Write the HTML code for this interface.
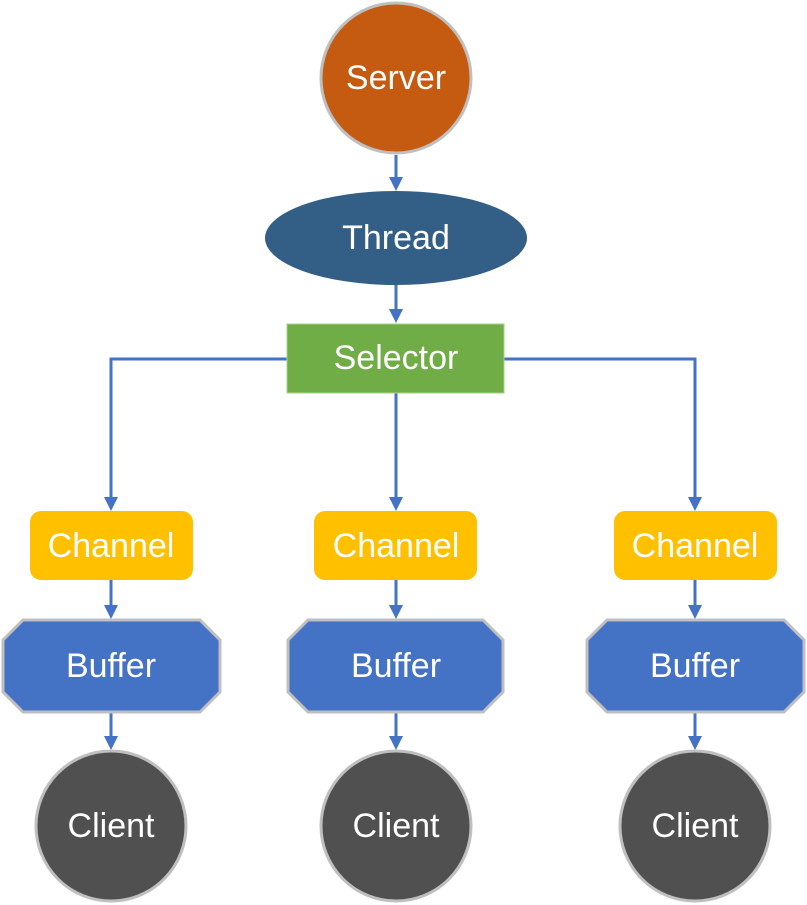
<!DOCTYPE html>
<html><head><meta charset="utf-8"><style>
html,body{margin:0;padding:0;background:#fff;}
svg{display:block;}
text{font-family:"Liberation Sans",sans-serif;font-size:34px;fill:#fff;text-anchor:middle;dominant-baseline:central;}
</style></head><body>
<svg width="807" height="905" viewBox="0 0 807 905" xmlns="http://www.w3.org/2000/svg">
<g stroke="#4472C4" stroke-width="3" fill="none">
<line x1="396" y1="155" x2="396" y2="178"/>
<line x1="396" y1="285" x2="396" y2="310"/>
<polyline points="287,359 111,359 111,498"/>
<polyline points="504,359 695,359 695,498"/>
<line x1="396" y1="393" x2="396" y2="498"/>
<line x1="111" y1="580" x2="111" y2="606"/>
<line x1="396" y1="580" x2="396" y2="606"/>
<line x1="695" y1="580" x2="695" y2="606"/>
<line x1="111" y1="713" x2="111" y2="737"/>
<line x1="396" y1="713" x2="396" y2="737"/>
<line x1="695" y1="713" x2="695" y2="737"/>
</g>
<g fill="#4472C4">
<polygon points="389,177 403,177 396,191"/>
<polygon points="389,309 403,309 396,323"/>
<polygon points="104,497 118,497 111,511"/>
<polygon points="389,497 403,497 396,511"/>
<polygon points="688,497 702,497 695,511"/>
<polygon points="104,605 118,605 111,619"/>
<polygon points="389,605 403,605 396,619"/>
<polygon points="688,605 702,605 695,619"/>
<polygon points="104,736 118,736 111,750"/>
<polygon points="389,736 403,736 396,750"/>
<polygon points="688,736 702,736 695,750"/>
</g>
<circle cx="396" cy="78" r="75" fill="#C55A11" stroke="#BFBFBF" stroke-width="3"/>
<text x="396" y="78">Server</text>
<ellipse cx="396" cy="238" rx="131" ry="47" fill="#335F87"/>
<text x="396" y="238">Thread</text>
<rect x="287" y="324" width="217" height="69" fill="#70AD47" stroke="#A9D18E" stroke-width="1"/>
<text x="396" y="358">Selector</text>
<g fill="#FFC000">
<rect x="30" y="511" width="163" height="69" rx="11"/>
<rect x="314" y="511" width="163" height="69" rx="11"/>
<rect x="614" y="511" width="163" height="69" rx="11"/>
</g>
<text x="111" y="546">Channel</text>
<text x="396" y="546">Channel</text>
<text x="695" y="546">Channel</text>
<g fill="#4472C4" stroke="#BFBFBF" stroke-width="3">
<polygon points="23,620 200,620 220,640 220,692 200,712 23,712 3,692 3,640"/>
<polygon points="308,620 483,620 503,640 503,692 483,712 308,712 288,692 288,640"/>
<polygon points="607,620 784,620 804,640 804,692 784,712 607,712 587,692 587,640"/>
</g>
<text x="111" y="666">Buffer</text>
<text x="396" y="666">Buffer</text>
<text x="695" y="666">Buffer</text>
<g fill="#505050" stroke="#BFBFBF" stroke-width="3">
<circle cx="111" cy="826" r="75"/>
<circle cx="396" cy="826" r="75"/>
<circle cx="695" cy="826" r="75"/>
</g>
<text x="111" y="826">Client</text>
<text x="396" y="826">Client</text>
<text x="695" y="826">Client</text>
</svg>
</body></html>
